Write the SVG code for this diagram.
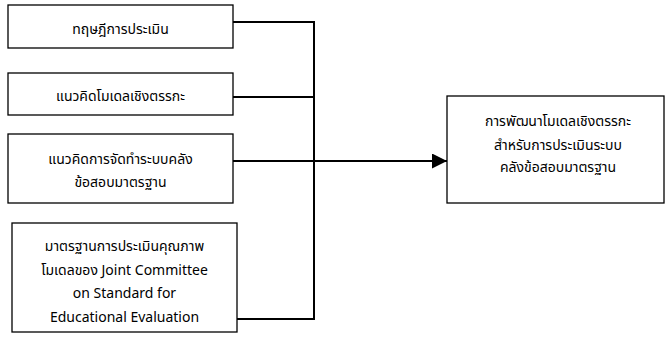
<svg xmlns="http://www.w3.org/2000/svg" width="665" height="343" viewBox="0 0 665 343">
<style>
.box{fill:#fff;stroke:#000;stroke-width:1.3}
.t{font-family:"Noto Sans","Noto Sans Thai","DejaVu Sans",sans-serif;font-size:14px;fill:#000;text-anchor:middle}
.c{fill:none;stroke:#000;stroke-width:2}
</style>
<defs>
<marker id="arr" markerWidth="16" markerHeight="16" refX="15" refY="7.5" orient="auto" markerUnits="userSpaceOnUse">
<path d="M0,0 L15,7.5 L0,15 Z" fill="#000"/>
</marker>
</defs>
<g id="connectors">
<path class="c" d="M233,22 H314 V319 H237"/>
<path class="c" d="M233,97 H314"/>
<path class="c" d="M233,161 H447" marker-end="url(#arr)"/>
</g>
<g id="n1">
<rect class="box" x="8" y="5" width="225" height="43"/>
<text class="t" x="120.5" y="34">ทฤษฎีการประเมิน</text>
</g>
<g id="n2">
<rect class="box" x="8" y="73" width="225" height="42"/>
<text class="t" x="120.5" y="101">แนวคิดโมเดลเชิงตรรกะ</text>
</g>
<g id="n3">
<rect class="box" x="8" y="134" width="225" height="69"/>
<text class="t" x="120.5" y="164">แนวคิดการจัดทำระบบคลัง</text>
<text class="t" x="120.5" y="187">ข้อสอบมาตรฐาน</text>
</g>
<g id="n4">
<rect class="box" x="12" y="223" width="225" height="109"/>
<text class="t" x="124.5" y="251">มาตรฐานการประเมินคุณภาพ</text>
<text class="t" x="124.5" y="275">โมเดลของ Joint Committee</text>
<text class="t" x="124.5" y="298">on Standard for</text>
<text class="t" x="124.5" y="322">Educational Evaluation</text>
</g>
<g id="n5">
<rect class="box" x="447" y="96" width="217" height="107"/>
<text class="t" x="558" y="126">การพัฒนาโมเดลเชิงตรรกะ</text>
<text class="t" x="558" y="150">สำหรับการประเมินระบบ</text>
<text class="t" x="558" y="172">คลังข้อสอบมาตรฐาน</text>
</g>
</svg>
